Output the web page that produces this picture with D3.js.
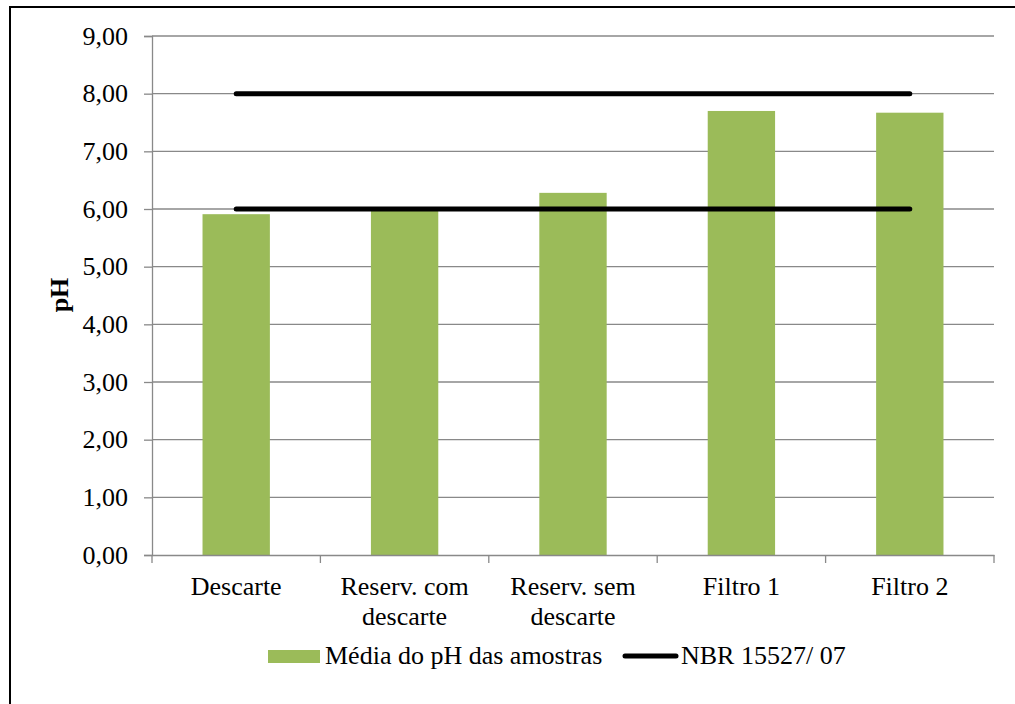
<!DOCTYPE html>
<html>
<head>
<meta charset="utf-8">
<script src="https://d3js.org/d3.v7.min.js"></script>
<style>
  body { margin: 0; background: #fff; }
</style>
</head>
<body>
<div class="chart"></div>
<script>
// data
var categories = [["Descarte"], ["Reserv. com", "descarte"], ["Reserv. sem", "descarte"], ["Filtro 1"], ["Filtro 2"]];
var phValues = [5.91, 6.00, 6.28, 7.70, 7.67];
var nbrUpper = [8, 8, 8, 8, 8];
var nbrLower = [6, 6, 6, 6, 6];
var yTicks = [0, 1, 2, 3, 4, 5, 6, 7, 8, 9];

var svgWidth = 1015;
var svgHeight = 704;
var font = "Liberation Serif";
var fontSize = "26px";

var margin = { top: 36, right: 21, bottom: 149, left: 152 };
var width = svgWidth - margin.left - margin.right;
var height = svgHeight - margin.top - margin.bottom;

var svg = d3.select(".chart")
  .append("svg")
  .attr("width", svgWidth)
  .attr("height", svgHeight);

// outer frame (only left and top edges visible)
svg.append("path")
  .attr("d", "M10,704 L10,7 L1015,7")
  .attr("fill", "none")
  .attr("stroke", "#000")
  .attr("stroke-width", 2);

var chartGroup = svg.append("g")
  .attr("transform", `translate(${margin.left}, ${margin.top})`);

var keys = categories.map((d, i) => i);

var xScale = d3.scaleBand()
  .domain(keys)
  .range([0, width])
  .paddingInner(0.6)
  .paddingOuter(0.3);

var xBand = d3.scaleBand().domain(keys).range([0, width]);

var yScale = d3.scaleLinear()
  .domain([0, 9])
  .range([height, 0]);

// gridlines
chartGroup.selectAll(".grid")
  .data(yTicks.filter(d => d > 0))
  .enter()
  .append("line")
  .attr("x1", 0)
  .attr("x2", width)
  .attr("y1", d => yScale(d))
  .attr("y2", d => yScale(d))
  .attr("stroke", "#898989")
  .attr("stroke-width", 1.3);

// bars
chartGroup.selectAll(".bar")
  .data(phValues)
  .enter()
  .append("rect")
  .attr("x", (d, i) => xScale(i))
  .attr("width", xScale.bandwidth())
  .attr("y", d => yScale(d))
  .attr("height", d => height - yScale(d))
  .attr("fill", "#9bbb59");

// NBR lines
var line = d3.line()
  .x((d, i) => xBand(i) + xBand.bandwidth() / 2)
  .y(d => yScale(d));

[nbrUpper, nbrLower].forEach(function(s) {
  chartGroup.append("path")
    .attr("d", line(s))
    .attr("fill", "none")
    .attr("stroke", "#000")
    .attr("stroke-width", 5)
    .attr("stroke-linecap", "round");
});

// y axis
var leftAxis = d3.axisLeft(yScale)
  .tickValues(yTicks)
  .tickSize(8)
  .tickPadding(16)
  .tickFormat(d => d3.format(".2f")(d).replace(".", ","));

var yAxis = chartGroup.append("g").call(leftAxis)
  .attr("font-family", font)
  .attr("font-size", fontSize);
yAxis.select(".domain").attr("stroke", "#898989").attr("stroke-width", 1.3);
yAxis.selectAll(".tick line").attr("stroke", "#898989").attr("stroke-width", 1.3);
yAxis.selectAll(".tick text")
  .attr("font-family", font)
  .attr("font-size", fontSize)
  .attr("fill", "#000");

// x axis
var bottomAxis = d3.axisBottom(xBand).tickSize(0).tickFormat("");
var xAxis = chartGroup.append("g")
  .attr("transform", `translate(0, ${height})`)
  .call(bottomAxis);
xAxis.select(".domain").attr("stroke", "#898989").attr("stroke-width", 1.3);

// category boundary ticks
chartGroup.selectAll(".xtick")
  .data(d3.range(categories.length + 1))
  .enter()
  .append("line")
  .attr("x1", d => d * xBand.step())
  .attr("x2", d => d * xBand.step())
  .attr("y1", height)
  .attr("y2", height + 8)
  .attr("stroke", "#898989")
  .attr("stroke-width", 1.3);

// category labels
var labels = chartGroup.selectAll(".xlabel")
  .data(categories)
  .enter()
  .append("text")
  .attr("text-anchor", "middle")
  .attr("font-family", font)
  .attr("font-size", fontSize)
  .attr("x", (d, i) => xBand(i) + xBand.bandwidth() / 2)
  .attr("y", height + 40);

labels.selectAll("tspan")
  .data(d => d)
  .enter()
  .append("tspan")
  .attr("x", function() { return d3.select(this.parentNode).attr("x"); })
  .attr("dy", (d, i) => i === 0 ? 0 : 30)
  .text(d => d);

// y axis title
svg.append("text")
  .attr("transform", "translate(68, 295) rotate(-90)")
  .attr("text-anchor", "middle")
  .attr("font-family", font)
  .attr("font-size", fontSize)
  .attr("font-weight", "bold")
  .text("pH");

// legend
var legend = svg.append("g")
  .attr("font-family", font)
  .attr("font-size", fontSize);
legend.append("rect")
  .attr("x", 268)
  .attr("y", 650)
  .attr("width", 52)
  .attr("height", 13)
  .attr("fill", "#9bbb59");
legend.append("text")
  .attr("x", 325)
  .attr("y", 664)
  .text("Média do pH das amostras");
legend.append("line")
  .attr("x1", 625)
  .attr("x2", 676)
  .attr("y1", 656)
  .attr("y2", 656)
  .attr("stroke", "#000")
  .attr("stroke-width", 5)
  .attr("stroke-linecap", "round");
legend.append("text")
  .attr("x", 681)
  .attr("y", 664)
  .text("NBR 15527/ 07");
</script>
</body>
</html>
